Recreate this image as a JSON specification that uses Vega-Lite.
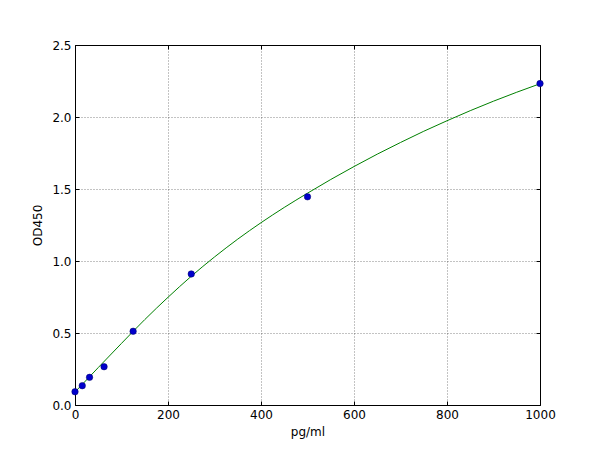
{
  "$schema": "https://vega.github.io/schema/vega-lite/v6.json",
  "width": 465,
  "height": 360,
  "autosize": {"type": "none"},
  "padding": {"left": 75, "top": 45, "right": 60, "bottom": 45},
  "background": "#ffffff",
  "datasets": {
    "standards": [
      {"conc": 0, "od": 0.092},
      {"conc": 15.6, "od": 0.134},
      {"conc": 31.25, "od": 0.192},
      {"conc": 62.5, "od": 0.266},
      {"conc": 125, "od": 0.512},
      {"conc": 250, "od": 0.91},
      {"conc": 500, "od": 1.446},
      {"conc": 1000, "od": 2.232}
    ],
    "fit": [
      {"conc": 0, "od": 0.09},
      {"conc": 50, "od": 0.26},
      {"conc": 100, "od": 0.428},
      {"conc": 150, "od": 0.593},
      {"conc": 200, "od": 0.748},
      {"conc": 250, "od": 0.894},
      {"conc": 300, "od": 1.028},
      {"conc": 350, "od": 1.152},
      {"conc": 400, "od": 1.266},
      {"conc": 450, "od": 1.372},
      {"conc": 500, "od": 1.471},
      {"conc": 550, "od": 1.566},
      {"conc": 600, "od": 1.656},
      {"conc": 650, "od": 1.742},
      {"conc": 700, "od": 1.823},
      {"conc": 750, "od": 1.901},
      {"conc": 800, "od": 1.974},
      {"conc": 850, "od": 2.044},
      {"conc": 900, "od": 2.11},
      {"conc": 950, "od": 2.172},
      {"conc": 1000, "od": 2.231}
    ]
  },
  "layer": [
    {
      "data": {"name": "fit"},
      "mark": {"type": "line", "color": "#008000", "strokeWidth": 1, "interpolate": "monotone", "clip": true},
      "encoding": {
        "x": {
          "field": "conc", "type": "quantitative",
          "scale": {"domain": [0, 1000], "nice": false, "zero": false},
          "axis": {"orient": "top", "labels": false, "title": null, "grid": false, "domain": false, "values": [0, 200, 400, 600, 800, 1000]}
        },
        "y": {
          "field": "od", "type": "quantitative",
          "scale": {"domain": [0, 2.5], "nice": false, "zero": false},
          "axis": {"orient": "right", "labels": false, "title": null, "grid": false, "domain": false, "values": [0, 0.5, 1, 1.5, 2, 2.5]}
        }
      }
    },
    {
      "data": {"name": "standards"},
      "mark": {"type": "circle", "size": 42, "fill": "#0000cc", "stroke": "#000066", "strokeWidth": 0.5, "opacity": 1, "clip": false},
      "encoding": {
        "x": {
          "field": "conc", "type": "quantitative",
          "scale": {"domain": [0, 1000], "nice": false, "zero": false},
          "axis": {"orient": "bottom", "title": "pg/ml", "grid": true, "domain": false, "format": "d", "values": [0, 200, 400, 600, 800, 1000], "titlePadding": 6}
        },
        "y": {
          "field": "od", "type": "quantitative",
          "scale": {"domain": [0, 2.5], "nice": false, "zero": false},
          "axis": {"orient": "left", "title": "OD450", "grid": true, "domain": false, "format": ".1f", "values": [0, 0.5, 1, 1.5, 2, 2.5], "titlePadding": 7}
        }
      }
    }
  ],
  "resolve": {"axis": {"x": "independent", "y": "independent"}},
  "config": {
    "font": "DejaVu Sans",
    "view": {"stroke": "#000000", "strokeWidth": 1},
    "axis": {
      "labelFont": "DejaVu Sans",
      "titleFont": "DejaVu Sans",
      "labelFontSize": 12,
      "titleFontSize": 12,
      "titleFontWeight": "normal",
      "labelColor": "#000000",
      "titleColor": "#000000",
      "labelFlush": false,
      "labelOverlap": false,
      "tickColor": "#000000",
      "tickSize": -4,
      "tickWidth": 1,
      "labelPadding": 8,
      "gridColor": "#000000",
      "gridDash": [1, 2],
      "gridWidth": 0.6,
      "gridOpacity": 0.8
    }
  }
}
